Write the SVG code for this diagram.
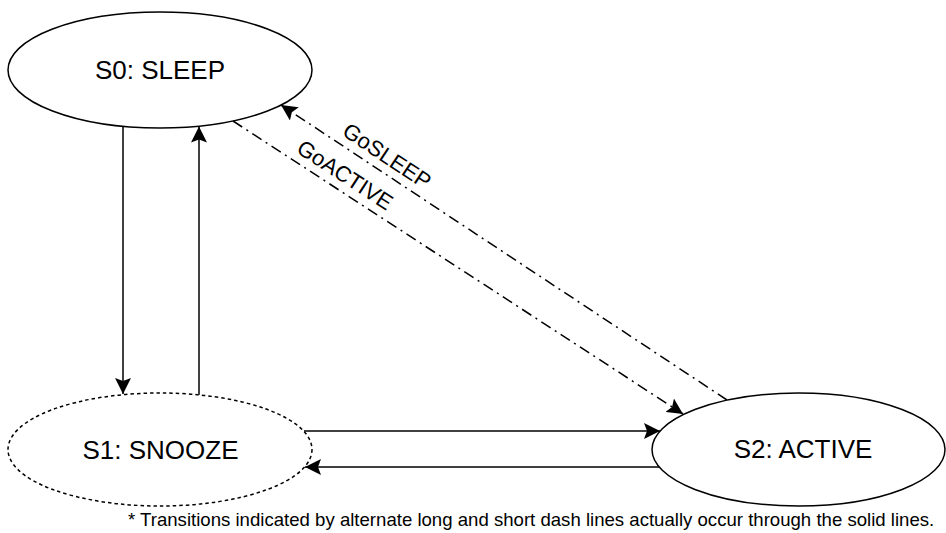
<svg xmlns="http://www.w3.org/2000/svg" width="946" height="533" viewBox="0 0 946 533">
  <style>
    .node { fill: #ffffff; stroke: #000000; stroke-width: 1.5; }
    .dotted { stroke-dasharray: 3.5 3; }
    .lbl { font-family: "Liberation Sans", Arial, sans-serif; font-size: 26px; fill: #000000; text-anchor: middle; }
    .edge { fill: none; stroke: #000000; stroke-width: 1.5; }
    .dashdot { stroke-dasharray: 11 5 2 5; }
    .elbl { font-family: "Liberation Sans", Arial, sans-serif; font-size: 22px; fill: #000000; text-anchor: middle; dominant-baseline: central; }
    .note { font-family: "Liberation Sans", Arial, sans-serif; font-size: 18.6px; fill: #000000; }
  </style>
  <defs>
    <marker id="arrow" markerUnits="userSpaceOnUse" markerWidth="18" markerHeight="16" refX="16" refY="8" orient="auto" viewBox="0 0 18 16">
      <path d="M0,0 L16,8 L0,16 L3,8 z" fill="#000000"/>
    </marker>
  </defs>
  <rect width="946" height="533" fill="#ffffff"/>

  <g id="connectors">
    <line class="edge" x1="123" y1="126.5" x2="123" y2="394" marker-end="url(#arrow)"/>
    <line class="edge" x1="199" y1="395" x2="199" y2="126.5" marker-end="url(#arrow)"/>
    <line class="edge" x1="304" y1="431" x2="660" y2="431" marker-end="url(#arrow)"/>
    <line class="edge" x1="659" y1="467" x2="305" y2="467" marker-end="url(#arrow)"/>
    <line class="edge dashdot" x1="727" y1="400" x2="281" y2="105" marker-end="url(#arrow)"/>
    <line class="edge dashdot" x1="233" y1="121" x2="683" y2="414" marker-end="url(#arrow)"/>
    <text class="elbl" transform="translate(387,156) rotate(33.5)">GoSLEEP</text>
    <text class="elbl" transform="translate(345,175) rotate(33)">GoACTIVE</text>
  </g>

  <g id="s0">
    <ellipse class="node" cx="160" cy="70" rx="152" ry="58"/>
    <text class="lbl" x="160" y="79">S0: SLEEP</text>
  </g>

  <g id="s1">
    <ellipse class="node dotted" cx="160" cy="449.5" rx="152" ry="56.5"/>
    <text class="lbl" x="160.5" y="458.5">S1: SNOOZE</text>
  </g>

  <g id="s2">
    <ellipse class="node" cx="798.5" cy="449.5" rx="146.5" ry="56.5"/>
    <text class="lbl" x="803" y="457.5">S2: ACTIVE</text>
  </g>

  <text class="note" x="128" y="526">* Transitions indicated by alternate long and short dash lines actually occur through the solid lines.</text>
</svg>
